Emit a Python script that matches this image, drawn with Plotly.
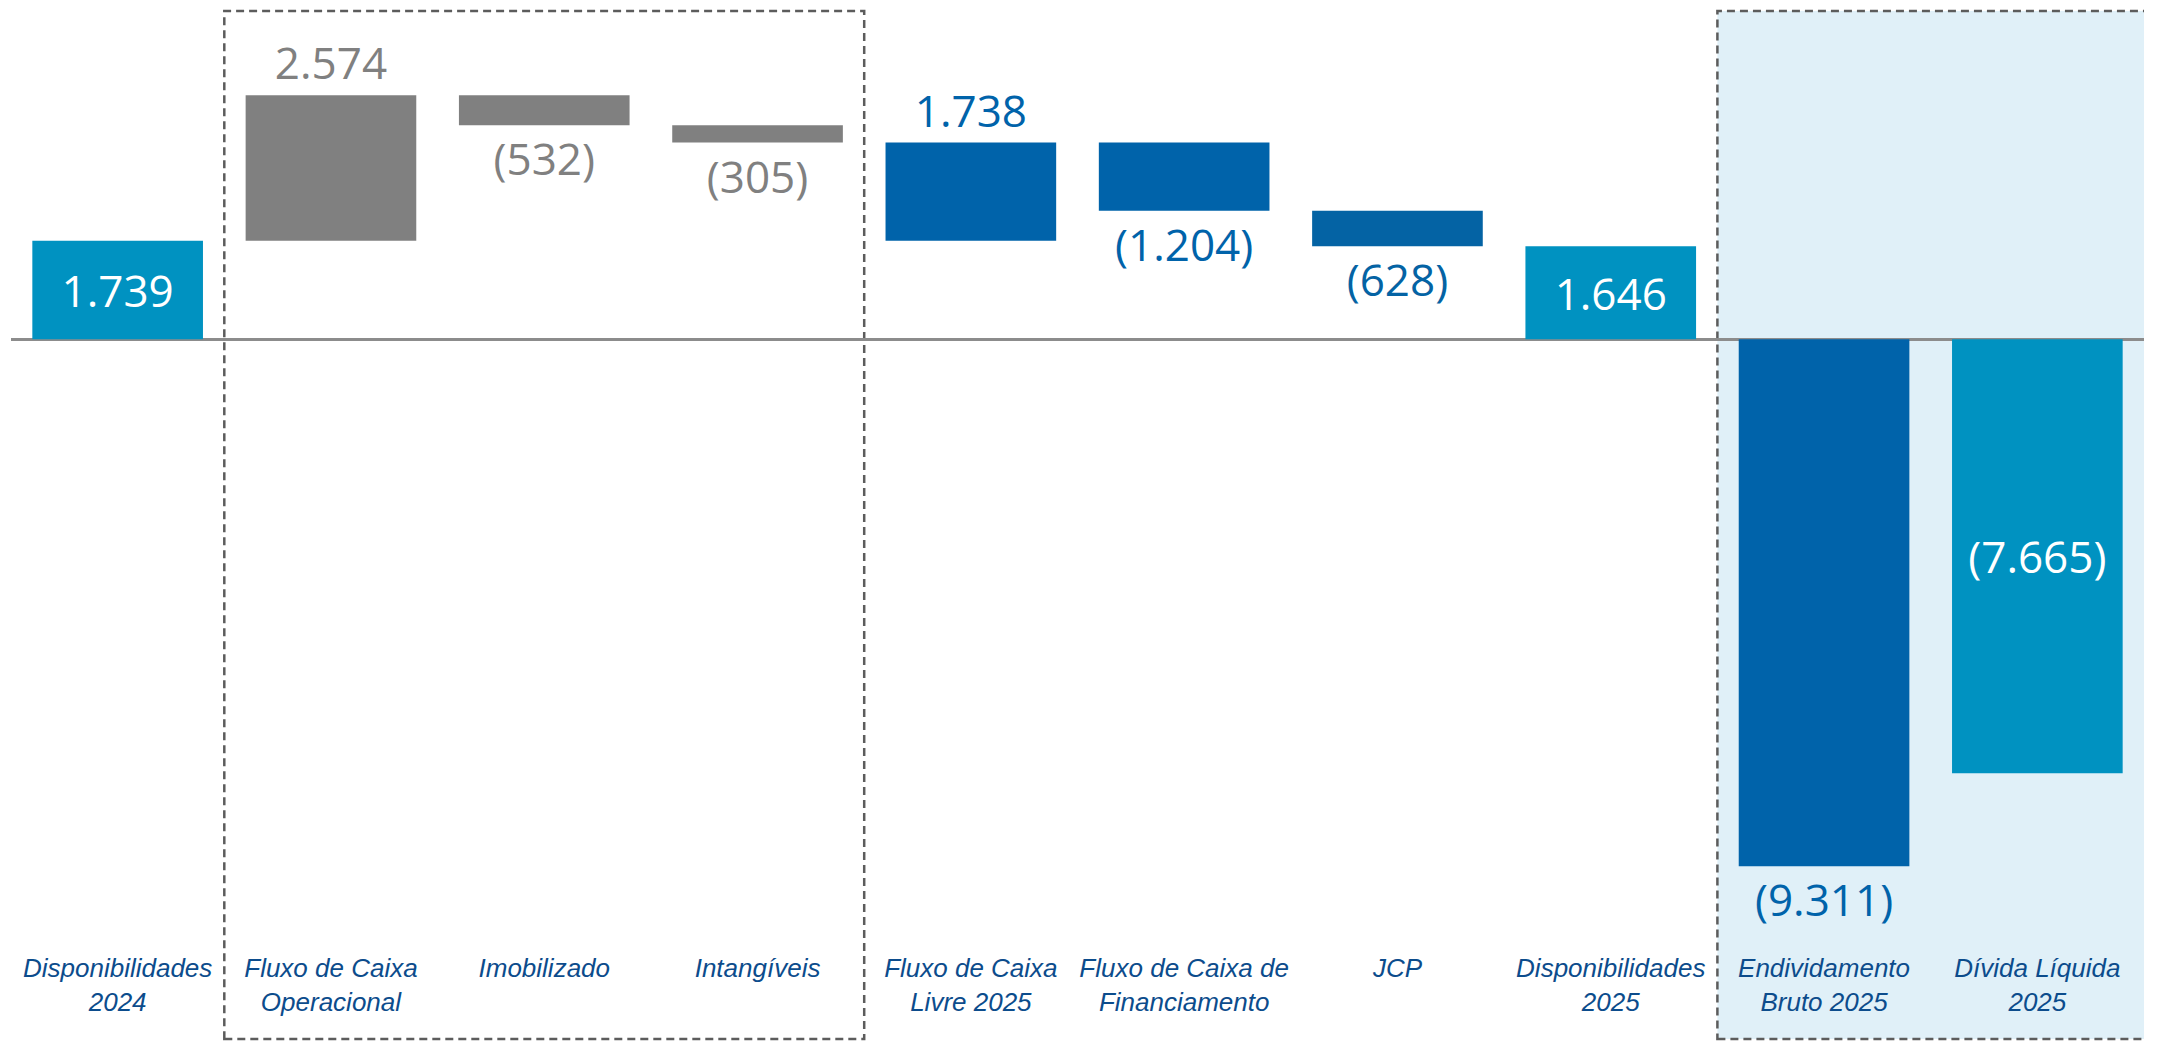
import plotly.graph_objects as go

# categorias e valores (R$ milhões)
categories = [
    "Disponibilidades<br>2024",
    "Fluxo de Caixa<br>Operacional",
    "Imobilizado",
    "Intangíveis",
    "Fluxo de Caixa<br>Livre 2025",
    "Fluxo de Caixa de<br>Financiamento",
    "JCP",
    "Disponibilidades<br>2025",
    "Endividamento<br>Bruto 2025",
    "Dívida Líquida<br>2025",
]
values = [1739, 2574, -532, -305, 1738, -1204, -628, 1646, -9311, -7665]
measures = ["absolute", "relative", "relative", "relative", "subtotal",
            "relative", "relative", "absolute", "absolute", "absolute"]
value_labels = ["1.739", "2.574", "(532)", "(305)", "1.738",
                "(1.204)", "(628)", "1.646", "(9.311)", "(7.665)"]

GRAY = "#808080"
BLUE = "#0063AA"
BLUE_JCP = "#0463A4"
LIGHT = "#0092C1"
LABEL = "#0C4C8C"

bar_colors = [LIGHT, GRAY, GRAY, GRAY, BLUE, BLUE, BLUE_JCP, LIGHT, BLUE, LIGHT]
text_pos = ["inside", "outside", "outside", "outside", "outside",
            "outside", "outside", "inside", "outside", "inside"]
text_colors = ["white" if p == "inside" else c for p, c in zip(text_pos, bar_colors)]

# base of each floating bar
bases = []
running = 0
start = None
for v, m in zip(values, measures):
    if m == "absolute":
        base = 0
        running = v
        if start is None:
            start = v
    elif m == "relative":
        base = running
        running += v
    else:  # subtotal measured from the opening cash
        base = start
        running = start + v
    bases.append(base)

# page body has an 8px margin, so the figure is a bit smaller
W, H = 2149, 1034
mt, mb, ml, mr = 0, 92, 3, 13
plot_h = H - mt - mb
zero_px = 331.3
px_per_unit = 0.0566
y_top = zero_px / px_per_unit
y_bot = -(plot_h - zero_px) / px_per_unit


def paper_y(px):
    return (plot_h - px) / plot_h


fig = go.Figure()
fig.add_trace(go.Bar(
    x=categories, y=values, base=bases,
    marker=dict(color=bar_colors, line=dict(width=0)),
    width=0.8,
    text=value_labels, textposition=text_pos,
    insidetextanchor="middle",
    textfont=dict(family="Open Sans", size=44, color=text_colors),
    constraintext="none", cliponaxis=False,
    hoverinfo="skip",
))

box_line = dict(color="#5C5C5C", width=2.5, dash="8px,5px")
# caixa tracejada do fluxo operacional
fig.add_shape(type="rect", xref="x", yref="paper",
              x0=0.5, x1=3.5, y0=paper_y(1031), y1=paper_y(3),
              line=box_line, fillcolor="rgba(0,0,0,0)", layer="below")
# área sombreada do endividamento
fig.add_shape(type="rect", xref="x", yref="paper",
              x0=7.5, x1=9.55, y0=paper_y(1031), y1=paper_y(3),
              line=box_line, fillcolor="#E0F0F8", layer="below")

fig.update_layout(
    width=W, height=H,
    margin=dict(t=mt, b=mb, l=ml, r=mr),
    plot_bgcolor="white", paper_bgcolor="white",
    showlegend=False,
)
fig.update_xaxes(
    type="category", range=[-0.5, 9.5],
    showgrid=False, showline=False, ticks="", tickangle=0,
    tickfont=dict(family="Liberation Sans", size=26, color=LABEL, style="italic"),
)
fig.update_yaxes(
    range=[y_bot, y_top], showgrid=False, showticklabels=False,
    zeroline=True, zerolinecolor="#8C8C8C", zerolinewidth=2.5,
)

fig.write_html("out.html")
